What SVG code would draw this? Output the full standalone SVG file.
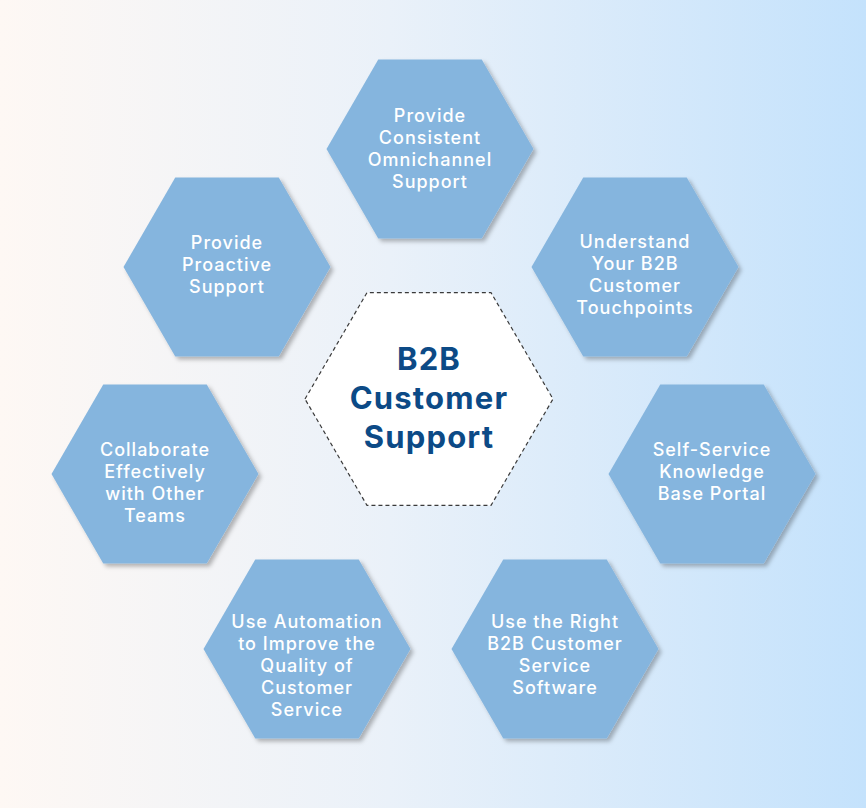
<svg xmlns="http://www.w3.org/2000/svg" xmlns:xlink="http://www.w3.org/1999/xlink" width="866" height="808" viewBox="0 0 866 808">
  <defs>
    <linearGradient id="bg" x1="0" y1="0" x2="1" y2="0">
      <stop offset="0" stop-color="#FEF8F4"/>
      <stop offset="0.45" stop-color="#EAF1F9"/>
      <stop offset="1" stop-color="#C4E2FC"/>
    </linearGradient>
    <filter id="shadow" x="-10%" y="-10%" width="125%" height="125%">
      <feDropShadow dx="3" dy="3" stdDeviation="2" flood-color="#000" flood-opacity="0.28"/>
    </filter>
    <polygon id="hex" points="-103.5,0 -51.75,-89.6 51.75,-89.6 103.5,0 51.75,89.6 -51.75,89.6"/>
  </defs>
  <style>
    .hex { fill: #85B5DE; filter: url(#shadow); }
    .lbl { font-family: Inter, "Open Sans", "DejaVu Sans", sans-serif; font-weight: 500; font-size: 18px; letter-spacing: 1px; fill: #FFFFFF; text-anchor: middle; }
    .ctr { font-family: Inter, "Open Sans", "DejaVu Sans", sans-serif; font-weight: 700; font-size: 31px; letter-spacing: 1.2px; fill: #0C4A86; text-anchor: middle; }
  </style>
  <rect x="0" y="0" width="866" height="808" fill="url(#bg)"/>

  <g id="node-omnichannel">
    <use xlink:href="#hex" class="hex" transform="translate(430,149)"/>
    <text class="lbl" x="430"><tspan x="430" y="122">Provide</tspan><tspan x="430" y="144">Consistent</tspan><tspan x="430" y="166">Omnichannel</tspan><tspan x="430" y="188">Support</tspan></text>
  </g>

  <g id="node-proactive">
    <use xlink:href="#hex" class="hex" transform="translate(227,267)"/>
    <text class="lbl" x="227"><tspan x="227" y="249">Provide</tspan><tspan x="227" y="271">Proactive</tspan><tspan x="227" y="293">Support</tspan></text>
  </g>

  <g id="node-touchpoints">
    <use xlink:href="#hex" class="hex" transform="translate(635,267)"/>
    <text class="lbl" x="635"><tspan x="635" y="248">Understand</tspan><tspan x="635" y="270">Your B2B</tspan><tspan x="635" y="292">Customer</tspan><tspan x="635" y="314">Touchpoints</tspan></text>
  </g>

  <g id="node-collaborate">
    <use xlink:href="#hex" class="hex" transform="translate(155,474)"/>
    <text class="lbl" x="155"><tspan x="155" y="456">Collaborate</tspan><tspan x="155" y="478">Effectively</tspan><tspan x="155" y="500">with Other</tspan><tspan x="155" y="522">Teams</tspan></text>
  </g>

  <g id="node-selfservice">
    <use xlink:href="#hex" class="hex" transform="translate(712,474)"/>
    <text class="lbl" x="712"><tspan x="712" y="456">Self-Service</tspan><tspan x="712" y="478">Knowledge</tspan><tspan x="712" y="500">Base Portal</tspan></text>
  </g>

  <g id="node-automation">
    <use xlink:href="#hex" class="hex" transform="translate(307,649)"/>
    <text class="lbl" x="307"><tspan x="307" y="628">Use Automation</tspan><tspan x="307" y="650">to Improve the</tspan><tspan x="307" y="672">Quality of</tspan><tspan x="307" y="694">Customer</tspan><tspan x="307" y="716">Service</tspan></text>
  </g>

  <g id="node-software">
    <use xlink:href="#hex" class="hex" transform="translate(555,649)"/>
    <text class="lbl" x="555"><tspan x="555" y="628">Use the Right</tspan><tspan x="555" y="650">B2B Customer</tspan><tspan x="555" y="672">Service</tspan><tspan x="555" y="694">Software</tspan></text>
  </g>

  <g id="node-center">
    <polygon points="305,399 367,292.6 491,292.6 553,399 491,505.4 367,505.4" fill="#FFFFFF" stroke="#3A3A3A" stroke-width="1.2" stroke-dasharray="4 3"/>
    <text class="ctr" x="429"><tspan x="429" y="370">B2B</tspan><tspan x="429" y="409">Customer</tspan><tspan x="429" y="448">Support</tspan></text>
  </g>
</svg>
